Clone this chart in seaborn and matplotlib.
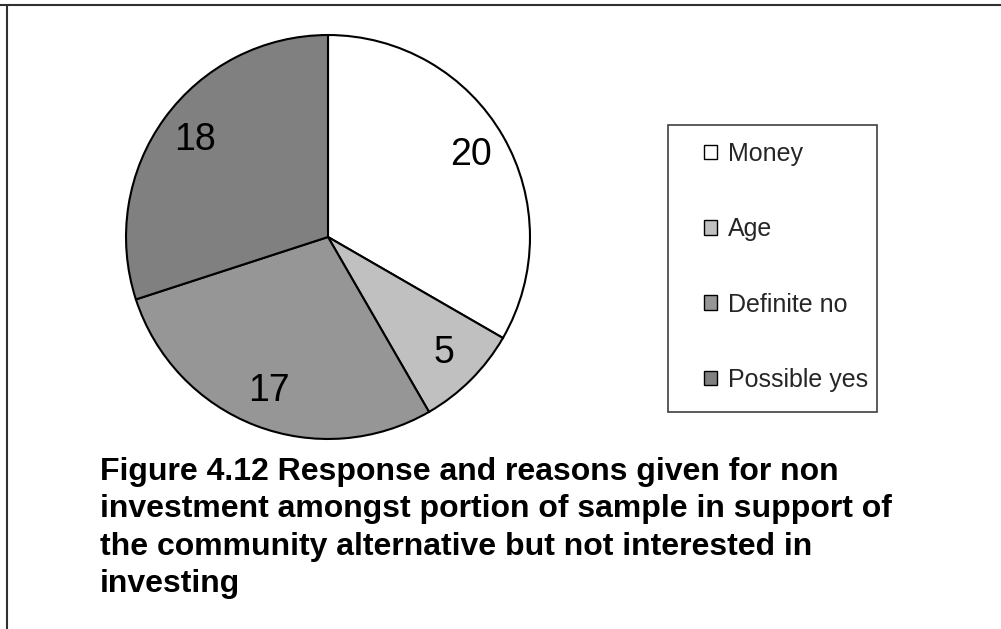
import matplotlib
matplotlib.use("Agg")
import matplotlib.pyplot as plt
import matplotlib.patches as mpatches
from matplotlib.lines import Line2D
import seaborn as sns

categories = ["Money", "Age", "Definite no", "Possible yes"]
values = [20, 5, 17, 18]
colors = ["#FFFFFF", "#C0C0C0", "#969696", "#808080"]
title = ("Figure 4.12 Response and reasons given for non\n"
         "investment amongst portion of sample in support of\n"
         "the community alternative but not interested in\n"
         "investing")

sns.set_theme(style="white")
plt.rcParams['font.family'] = ['Liberation Sans', 'DejaVu Sans']

W, H = 1001, 629
fig = plt.figure(figsize=(W / 100, H / 100), dpi=100)
fig.patch.set_facecolor("white")

# pie axes: center (328,237), radius 204 px
cx, cy, r = 328, 237, 204
ax = fig.add_axes([(cx - r) / W, (H - (cy + r)) / H, 2 * r / W, 2 * r / H])
wedges, texts = ax.pie(values, colors=colors, startangle=90, counterclock=False,
                       labels=[str(v) for v in values], labeldistance=0.815,
                       wedgeprops=dict(edgecolor="black", linewidth=1.5),
                       textprops=dict(fontsize=27, color="black"))
for t in texts:
    t.set_ha("center")
    t.set_va("center")
ax.set_xlim(-1.01, 1.01)
ax.set_ylim(-1.01, 1.01)
ax.set_aspect("equal")
ax.axis("off")

# legend frame
lx0, ly0, lx1, ly1 = 668, 125, 877, 412
fig.patches.append(mpatches.Rectangle((lx0 / W, 1 - ly1 / H), (lx1 - lx0) / W, (ly1 - ly0) / H,
                                      transform=fig.transFigure, fill=False,
                                      edgecolor="#404040", linewidth=1.2))
handles = [mpatches.Patch(facecolor=c, edgecolor="black", linewidth=1.0) for c in colors]
leg = fig.legend(handles, categories, loc="upper left",
                 bbox_to_anchor=(684 / W, 1 - 122 / H),
                 frameon=False, fontsize=18, handlelength=0.52, handleheight=0.52,
                 handletextpad=0.42, labelspacing=2.05, borderpad=0.3)

# frame lines (top and left)
fig.add_artist(Line2D([0, 1], [1 - 5 / H, 1 - 5 / H], transform=fig.transFigure,
                      color="#303030", linewidth=1.5))
fig.add_artist(Line2D([7 / W, 7 / W], [0, 1 - 5 / H], transform=fig.transFigure,
                      color="#303030", linewidth=1.5))

fig.text(100 / W, 1 - 457 / H, title, ha="left", va="top", fontsize=23,
         fontweight="bold", linespacing=1.325, color="black")

fig.savefig("out.png", dpi=100, facecolor="white")
